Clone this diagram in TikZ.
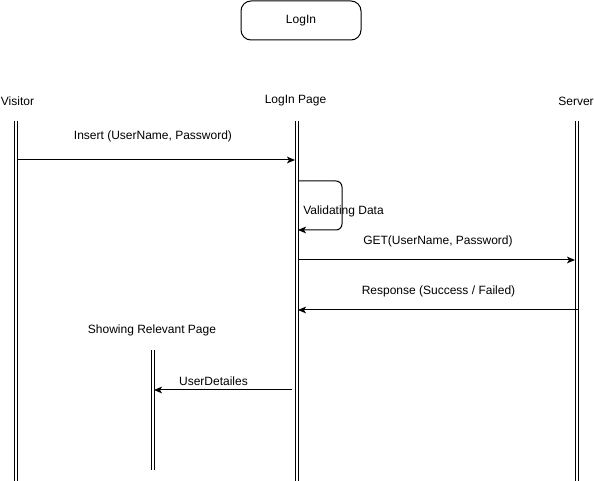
\documentclass[tikz,border=0pt]{standalone}
\usepackage{fontspec}
\setmainfont{Liberation Sans}
\usetikzlibrary{arrows.meta}
\tikzset{
  px/.style={x=0.75pt, y=-0.75pt},
  lifeline/.style={
    draw=black,
    line width=0.75pt,
    double,
    double distance=1.5pt
  },
  message/.style={
    draw=black,
    line width=0.75pt,
    -{Stealth[length=6pt, width=5pt, inset=1.5pt]}
  },
  msg-text/.style={font=\fontsize{9}{11}\selectfont, inner sep=0pt},
  title-box/.style={msg-text, draw=black, line width=0.75pt, rounded corners=7.5pt,
    minimum width=90pt, minimum height=29.25pt}
}

\begin{document}
\begin{tikzpicture}[px]
  \useasboundingbox (0,0) rectangle (594,481);

  \node[title-box] (login) at (301,20.5) {LogIn};

  % Lifeline heads
  \node[msg-text] (visitor) at (17.5,101) {Visitor};
  \node[msg-text] (page)    at (295.5,101) {LogIn Page};
  \node[msg-text] (server)  at (576,101) {Server};
  \node[msg-text] (showing) at (152,330) {Showing Relevant Page};

  \coordinate (V0) at (15.5,121);  \coordinate (V1) at (15.5,481);
  \coordinate (P0) at (296.5,121); \coordinate (P1) at (296.5,481);
  \coordinate (S0) at (576.5,121); \coordinate (S1) at (576.5,481);
  \coordinate (R0) at (152.5,350); \coordinate (R1) at (152.5,470);
  % Lifelines
  \draw[lifeline] (V0) -- (V1);
  \draw[lifeline] (P0) -- (P1);
  \draw[lifeline] (S0) -- (S1);
  \draw[lifeline] (R0) -- (R1);

  % Messages
  \coordinate (insA) at (17,160);   \coordinate (insB) at (295,160);
  \coordinate (valA) at (298,181);  \coordinate (valB) at (298,230);
  \coordinate (getA) at (298,260);  \coordinate (getB) at (575,260);
  \coordinate (resA) at (578,310);  \coordinate (resB) at (298,310);
  \coordinate (usrA) at (292,390);  \coordinate (usrB) at (154,390);
  \draw[message] (insA) -- (insB);
  \draw[message, rounded corners=4.5pt] (valA) -- (342,181) -- (342,230) -- (valB);
  \draw[message] (getA) -- (getB);
  \draw[message] (resA) -- (resB);
  \draw[message] (usrA) -- (usrB);

  % Labels
  \node[msg-text] (ins-label) at (153,136) {Insert (UserName, Password)};
  \node[msg-text, anchor=west] (val-label) at (303,211) {Validating Data};
  \node[msg-text] (get-label) at (438,241.5) {GET(UserName, Password)};
  \node[msg-text] (res-label) at (438.5,291) {Response (Success / Failed)};
  \node[msg-text] (usr-label) at (213.5,381) {UserDetailes};
\end{tikzpicture}
\end{document}
